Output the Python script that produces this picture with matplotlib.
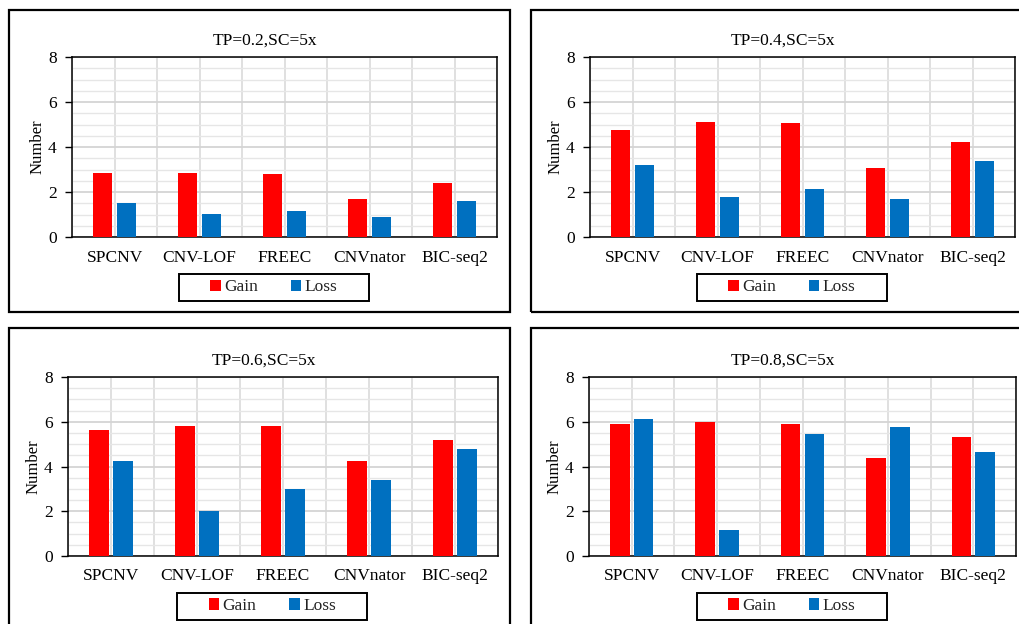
import numpy as np
import matplotlib
matplotlib.use('Agg')
import matplotlib.pyplot as plt
from matplotlib.patches import Patch, Rectangle
from matplotlib.ticker import MultipleLocator

plt.rcParams['font.family'] = ['Liberation Serif', 'DejaVu Serif']

# data
methods = ['SPCNV', 'CNV-LOF', 'FREEC', 'CNVnator', 'BIC-seq2']
titles = ['TP=0.2,SC=5x', 'TP=0.4,SC=5x', 'TP=0.6,SC=5x', 'TP=0.8,SC=5x']

gain_02 = [2.84, 2.84, 2.78, 1.70, 2.40]
loss_02 = [1.52, 1.03, 1.15, 0.90, 1.58]
gain_04 = [4.74, 5.11, 5.05, 3.05, 4.24]
loss_04 = [3.20, 1.76, 2.13, 1.70, 3.38]
gain_06 = [5.62, 5.80, 5.80, 4.26, 5.19]
loss_06 = [4.26, 2.00, 3.01, 3.38, 4.76]
gain_08 = [5.88, 6.01, 5.92, 4.39, 5.31]
loss_08 = [6.13, 1.14, 5.45, 5.76, 4.63]

gains = [gain_02, gain_04, gain_06, gain_08]
losses = [loss_02, loss_04, loss_06, loss_08]

RED = '#ff0000'
BLUE = '#0070c0'

W, H = 1019, 624
fig = plt.figure(figsize=(W / 100, H / 100), dpi=100)

# axes boxes in pixels: left, right, top, bottom
ax_px = [(72, 497, 57, 237), (590, 1015, 57, 237),
         (68, 498, 377, 556), (589, 1016, 377, 556)]
# outer panel frames in pixels: left, right, top, bottom
frame_px = [(9, 510, 10, 312), (531, 1030, 10, 312),
            (9, 510, 328, 640), (531, 1030, 328, 640)]

for (fl, fr, ft, fb) in frame_px:
    fig.patches.append(Rectangle((fl / W, 1 - fb / H), (fr - fl) / W, (fb - ft) / H,
                                 transform=fig.transFigure, fill=False,
                                 edgecolor='black', linewidth=1.6, zorder=0))

x = np.arange(len(methods))
bw = 0.23

for i, (l, r, t, b) in enumerate(ax_px):
    ax = fig.add_axes([l / W, 1 - b / H, (r - l) / W, (b - t) / H])
    ax.bar(x - 0.14, gains[i], bw, color=RED, zorder=3)
    ax.bar(x + 0.14, losses[i], bw, color=BLUE, zorder=3)

    ax.set_xlim(-0.5, len(methods) - 0.5)
    ax.set_ylim(0, 8)
    ax.yaxis.set_major_locator(MultipleLocator(2))
    ax.yaxis.set_minor_locator(MultipleLocator(0.5))
    ax.set_xticks(x)
    ax.set_xticklabels(methods, fontsize=12.5)
    ax.set_xticks(np.arange(len(methods) + 1) - 0.5, minor=True)
    ax.tick_params(axis='x', which='both', length=0, pad=9)
    ax.tick_params(axis='y', which='major', length=5, width=1, labelsize=12.5, pad=6)
    ax.tick_params(axis='y', which='minor', length=0)

    ax.grid(True, axis='y', which='major', color='#d4d4d4', linewidth=1.3, zorder=0)
    ax.grid(True, axis='y', which='minor', color='#e6e6e6', linewidth=1.0, zorder=0)
    ax.grid(True, axis='x', which='both', color='#dadada', linewidth=1.2, zorder=0)
    for s in ax.spines.values():
        s.set_color('black')
        s.set_linewidth(1.1)

    ax.set_title(titles[i], fontsize=12.5, x=0.455, pad=9)
    ax.set_ylabel('Number', fontsize=12, labelpad=2)

    # legend without frame plus a wide box drawn around it
    handles = [Patch(facecolor=RED, label='Gain'), Patch(facecolor=BLUE, label='Loss')]
    leg = ax.legend(handles=handles, ncol=2, loc='center', bbox_to_anchor=(0.475, -0.28),
                    fontsize=12.5, frameon=False, handlelength=0.6, handleheight=0.6,
                    handletextpad=0.2, columnspacing=1.9, borderpad=0, borderaxespad=0)
    for txt in leg.get_texts():
        txt.set_color('#222222')
    bw_box, bh_box = 190 / (r - l), 27 / (b - t)
    ax.add_patch(Rectangle((0.475 - bw_box / 2, -0.28 - bh_box / 2), bw_box, bh_box,
                           transform=ax.transAxes, fill=False, edgecolor='black',
                           linewidth=1.4, clip_on=False))

fig.savefig('out.png', dpi=100)
